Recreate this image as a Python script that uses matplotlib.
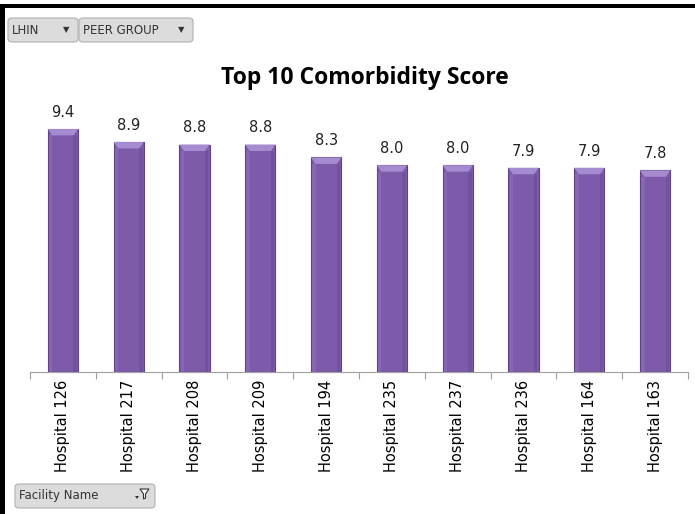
import matplotlib
matplotlib.use("Agg")
import matplotlib.pyplot as plt
from matplotlib.patches import FancyBboxPatch, Polygon, Rectangle
import numpy as np

categories = ["Hospital 126", "Hospital 217", "Hospital 208", "Hospital 209", "Hospital 194",
              "Hospital 235", "Hospital 237", "Hospital 236", "Hospital 164", "Hospital 163"]
scores = [9.4, 8.9, 8.8, 8.8, 8.3, 8.0, 8.0, 7.9, 7.9, 7.8]
title = "Top 10 Comorbidity Score"

W, H = 695, 514
fig = plt.figure(figsize=(W / 100, H / 100), dpi=100)
fig.patch.set_facecolor("white")

def fx(px):
    return px / W

def fy(py):
    return 1 - py / H

# axes: x 30..688, y 113..372 (pixels)
ax = fig.add_axes([fx(30), fy(372), (688 - 30) / W, (372 - 113.5) / H])
ax.set_xlim(-0.5, len(categories) - 0.5)
ax.set_ylim(0, 10)

x = np.arange(len(categories))
bw = 0.46
bars = ax.bar(x, scores, width=bw, color="#7D5BAA", edgecolor="#5E4386", linewidth=0.8, zorder=2)

# bevel highlights on bars
for xi, v in zip(x, scores):
    cap = 0.25
    inset = 0.07
    ax.add_patch(Polygon([[xi - bw / 2, v], [xi + bw / 2, v], [xi + bw / 2 - inset, v - cap],
                          [xi - bw / 2 + inset, v - cap]], closed=True,
                         facecolor="#A58BD0", edgecolor="none", zorder=3))
    ax.add_patch(Rectangle((xi - bw / 2 + 0.02, 0), 0.05, v - cap, facecolor="#8F6EBF",
                           edgecolor="none", alpha=0.6, zorder=3))
    ax.add_patch(Rectangle((xi + bw / 2 - 0.07, 0), 0.05, v - cap, facecolor="#6A4C93",
                           edgecolor="none", alpha=0.6, zorder=3))
    ax.text(xi, v + 0.35, f"{v:.1f}", ha="center", va="bottom", fontsize=10.5,
            family="DejaVu Sans", color="#222222")

for s in ["top", "right", "left"]:
    ax.spines[s].set_visible(False)
ax.spines["bottom"].set_color("#A0A0A0")
ax.set_yticks([])
ax.set_xticks(np.arange(-0.5, len(categories) + 0.5, 1), minor=False)
ax.set_xticklabels([])
ax.tick_params(axis="x", length=5, color="#A0A0A0", direction="out", pad=0)
for xi, c in zip(x, categories):
    ax.text(xi, -0.3, c, rotation=90, ha="center", va="top", fontsize=10.5,
            family="DejaVu Sans", color="black")

# title
fig.text(fx(365), fy(78), title, ha="center", va="center", fontsize=16.5,
         fontweight="bold", family="Open Sans")

# black border top and left
fig.add_artist(Rectangle((0, fy(8)), 1, 4 / H, transform=fig.transFigure,
                         facecolor="black", edgecolor="none"))
fig.add_artist(Rectangle((0, 0), 5 / W, 1 - 4 / H, transform=fig.transFigure,
                         facecolor="black", edgecolor="none"))

def button(x0, y0, x1, y1, label, icon):
    p = FancyBboxPatch((fx(x0), fy(y1)), fx(x1 - x0), (y1 - y0) / H,
                       boxstyle="round,pad=0,rounding_size=0.006",
                       transform=fig.transFigure, facecolor="#DCDCDC",
                       edgecolor="#B0B0B0", linewidth=0.8)
    fig.add_artist(p)
    fig.text(fx(x0 + 4), fy((y0 + y1) / 2), label, ha="left", va="center",
             fontsize=8.5, family="DejaVu Sans", color="#333333")
    if icon:
        fig.text(fx(x1 - 12), fy((y0 + y1) / 2), icon, ha="center", va="center",
                 fontsize=6, family="DejaVu Sans", color="#333333")

button(8, 18, 78, 42, "LHIN", "▼")
button(79, 18, 193, 42, "PEER GROUP", "▼")
button(15, 484, 155, 508, "Facility Name", None)

# filter icon (drawn shape): small dropdown arrow + funnel
cx, cy = 140, 496
fig.add_artist(Polygon([[fx(cx - 5), fy(cy)], [fx(cx - 1), fy(cy)], [fx(cx - 3), fy(cy + 3)]],
                       closed=True, transform=fig.transFigure, facecolor="#333333", edgecolor="none"))
fig.add_artist(Polygon([[fx(cx), fy(cy - 7)], [fx(cx + 9), fy(cy - 7)], [fx(cx + 5.5), fy(cy - 2)],
                        [fx(cx + 5.5), fy(cy + 2)], [fx(cx + 3.5), fy(cy + 3)], [fx(cx + 3.5), fy(cy - 2)]],
                       closed=True, transform=fig.transFigure, facecolor="white",
                       edgecolor="#333333", linewidth=0.8))

fig.savefig("out.png", dpi=100, facecolor="white")
